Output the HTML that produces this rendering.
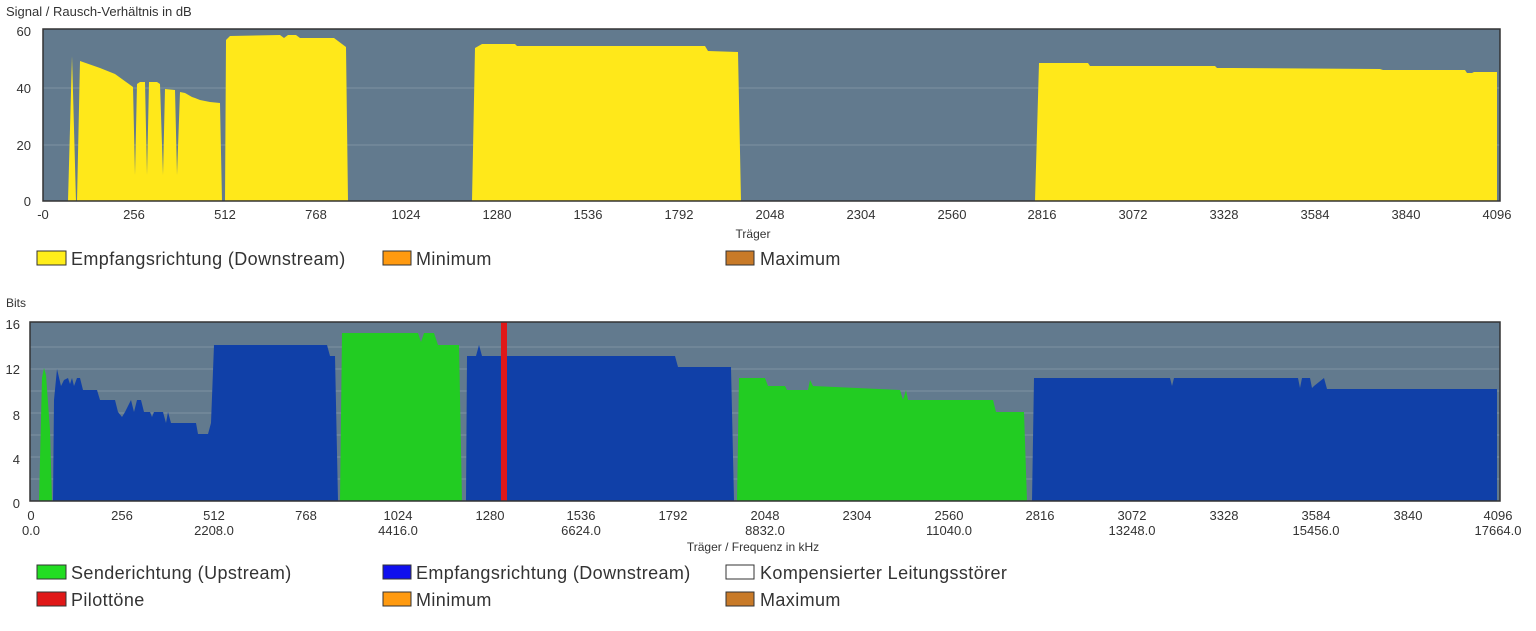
<!DOCTYPE html>
<html><head><meta charset="utf-8"><style>
body{margin:0;background:#fff;width:1536px;height:631px;overflow:hidden;font-family:"Liberation Sans",sans-serif;}
svg{position:absolute;left:0;top:0}
</style></head><body>
<svg width="1536" height="631" xmlns="http://www.w3.org/2000/svg" font-family="Liberation Sans, sans-serif">
<!-- TOP CHART -->
<text x="6" y="16" font-size="13" fill="#333">Signal / Rausch-Verhältnis in dB</text>
<rect x="43" y="29" width="1457" height="172" fill="#627a8e"/>
<g stroke="#7d92a3" stroke-width="1"><line x1="43" y1="88" x2="1500" y2="88"/><line x1="43" y1="145" x2="1500" y2="145"/></g>
<g fill="#ffe81a">
<polygon points="68,201 72,56 76,201"/>
<polygon points="77,201 80,61 100,68 115,74 133,87 135,175 137,84 140,82 145,82 147,175 149,82 157,82 160,84 163,175 165,89 175,90 177,175 180,92 185,93 192,97 195,98 200,100 210,102 220,103 222,201"/>
<polygon points="225,201 226,40 230,36 280,35 284,38 288,35 296,35 300,38 334,38 346,47 348,201"/>
<polygon points="472,201 475,48 482,44 515,44 517,46 705,46 708,51 738,52 741,201"/>
<polygon points="1035,201 1039,63 1088,63 1090,66 1215,66 1217,68 1230,68 1232,68 1380,69 1383,70 1465,70 1467,73 1472,73 1474,72 1497,72 1497,201"/>
</g>
<rect x="43" y="29" width="1457" height="172" fill="none" stroke="#333" stroke-width="1.5"/>
<g font-size="13" fill="#333" text-anchor="end"><text x="31" y="36">60</text><text x="31" y="93">40</text><text x="31" y="150">20</text><text x="31" y="206">0</text></g>
<g font-size="13" fill="#333" text-anchor="middle">
<text x="43" y="219">-0</text><text x="134" y="219">256</text><text x="225" y="219">512</text><text x="316" y="219">768</text><text x="406" y="219">1024</text><text x="497" y="219">1280</text><text x="588" y="219">1536</text><text x="679" y="219">1792</text><text x="770" y="219">2048</text><text x="861" y="219">2304</text><text x="952" y="219">2560</text><text x="1042" y="219">2816</text><text x="1133" y="219">3072</text><text x="1224" y="219">3328</text><text x="1315" y="219">3584</text><text x="1406" y="219">3840</text><text x="1497" y="219">4096</text>
<text x="753" y="238" font-size="12">Träger</text></g>
<g font-size="18" fill="#333" letter-spacing="0.4">
<rect x="37" y="251" width="29" height="14" fill="#ffee1a" stroke="#333"/><text x="71" y="265">Empfangsrichtung (Downstream)</text>
<rect x="383" y="251" width="28" height="14" fill="#ff9a10" stroke="#333"/><text x="416" y="265">Minimum</text>
<rect x="726" y="251" width="28" height="14" fill="#c87a28" stroke="#333"/><text x="760" y="265">Maximum</text>
</g>
<!-- BOTTOM CHART -->
<text x="6" y="307" font-size="12" fill="#333">Bits</text>
<rect x="30" y="322" width="1470" height="179" fill="#627a8e"/>
<g stroke="#7d92a3" stroke-width="1"><line x1="30" y1="347" x2="1500" y2="347"/><line x1="30" y1="369" x2="1500" y2="369"/><line x1="30" y1="391" x2="1500" y2="391"/><line x1="30" y1="413" x2="1500" y2="413"/><line x1="30" y1="435" x2="1500" y2="435"/><line x1="30" y1="457" x2="1500" y2="457"/><line x1="30" y1="479" x2="1500" y2="479"/></g>
<g fill="#22cc22">
<polygon points="39,501 42,378 44,368 46,375 50,430 52,501"/>
<polygon points="340,501 342,333 418,333 421,342 424,333 434,333 438,345 459,345 462,501"/>
<polygon points="737,501 739,378 765,378 768,386 785,386 787,390 808,390 810,380 813,386 900,390 903,400 906,390 908,400 993,400 996,412 1024,412 1027,501"/>
</g>
<g fill="#1040a8">
<polygon points="53,501 54,400 57,369 61,386 64,380 68,378 70,384 72,378 74,386 77,378 80,378 83,390 97,390 100,400 115,400 118,412 122,417 125,412 131,400 134,412 137,400 141,400 144,412 150,412 152,417 154,412 163,412 166,423 168,412 171,423 196,423 198,434 208,434 211,423 214,345 327,345 330,356 335,356 338,501"/>
<polygon points="466,501 467,356 476,356 479,345 482,356 675,356 678,367 731,367 734,501"/>
<polygon points="1032,501 1034,378 1170,378 1172,386 1174,378 1298,378 1300,388 1302,378 1310,378 1312,388 1314,386 1324,378 1327,389 1497,389 1497,501"/>
</g>
<rect x="501" y="322" width="6" height="179" fill="#e01818"/>
<rect x="30" y="322" width="1470" height="179" fill="none" stroke="#333" stroke-width="1.5"/>
<g font-size="13" fill="#333" text-anchor="end"><text x="20" y="329">16</text><text x="20" y="374">12</text><text x="20" y="420">8</text><text x="20" y="464">4</text><text x="20" y="508">0</text></g>
<g font-size="13" fill="#333" text-anchor="middle">
<text x="31" y="520">0</text><text x="122" y="520">256</text><text x="214" y="520">512</text><text x="306" y="520">768</text><text x="398" y="520">1024</text><text x="490" y="520">1280</text><text x="581" y="520">1536</text><text x="673" y="520">1792</text><text x="765" y="520">2048</text><text x="857" y="520">2304</text><text x="949" y="520">2560</text><text x="1040" y="520">2816</text><text x="1132" y="520">3072</text><text x="1224" y="520">3328</text><text x="1316" y="520">3584</text><text x="1408" y="520">3840</text><text x="1498" y="520">4096</text>
<text x="31" y="535">0.0</text><text x="214" y="535">2208.0</text><text x="398" y="535">4416.0</text><text x="581" y="535">6624.0</text><text x="765" y="535">8832.0</text><text x="949" y="535">11040.0</text><text x="1132" y="535">13248.0</text><text x="1316" y="535">15456.0</text><text x="1498" y="535">17664.0</text>
<text x="753" y="551" font-size="12">Träger / Frequenz in kHz</text></g>
<g font-size="18" fill="#333" letter-spacing="0.4">
<rect x="37" y="565" width="29" height="14" fill="#22dd22" stroke="#333"/><text x="71" y="579">Senderichtung (Upstream)</text>
<rect x="383" y="565" width="28" height="14" fill="#1010ee" stroke="#333"/><text x="416" y="579">Empfangsrichtung (Downstream)</text>
<rect x="726" y="565" width="28" height="14" fill="#fff" stroke="#333"/><text x="760" y="579">Kompensierter Leitungsstörer</text>
<rect x="37" y="592" width="29" height="14" fill="#e01818" stroke="#333"/><text x="71" y="606">Pilottöne</text>
<rect x="383" y="592" width="28" height="14" fill="#ff9a10" stroke="#333"/><text x="416" y="606">Minimum</text>
<rect x="726" y="592" width="28" height="14" fill="#c87a28" stroke="#333"/><text x="760" y="606">Maximum</text>
</g>
</svg>
</body></html>
